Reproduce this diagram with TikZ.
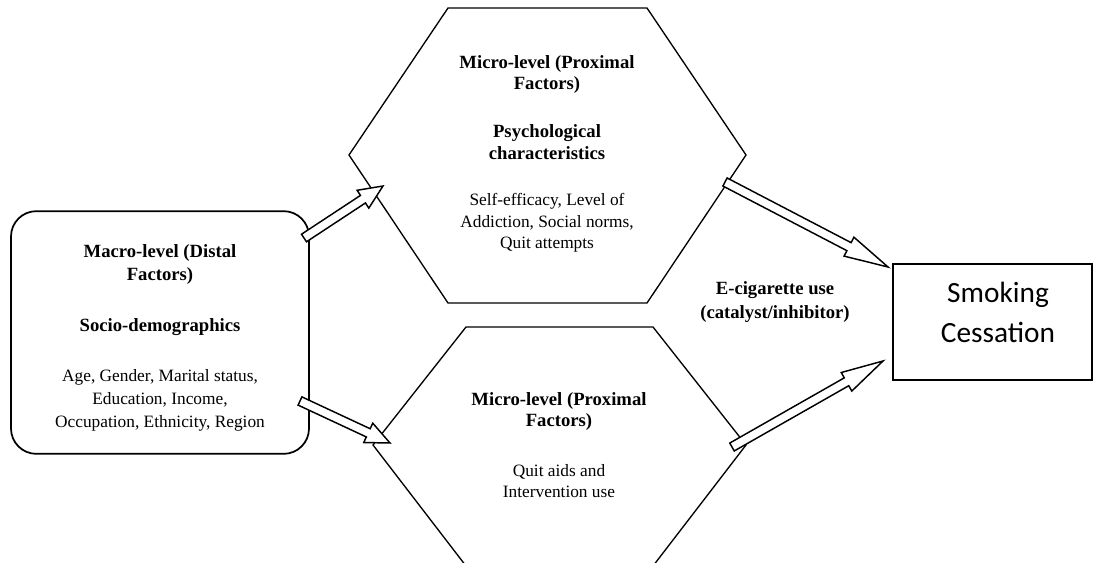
\documentclass[tikz,border=0pt]{standalone}
\usepackage{fontspec}
\setmainfont{Liberation Serif}[BoldFeatures={Scale=1.077}]
\newfontfamily\calibrifont{Carlito}
\usetikzlibrary{calc,positioning}

\tikzset{
  boxtext/.style={align=center,font=\fontsize{13}{17}\selectfont},
  hextext/.style={align=center,font=\fontsize{13}{16}\selectfont},
  hexline/.style={draw=black,line width=1pt,line join=miter},
  macrobox/.style={draw=black,line width=1.3pt,rounded corners=19pt,
    minimum width=223.5pt,minimum height=182pt},
  outcomebox/.style={draw=black,line width=1.2pt,
    minimum width=149pt,minimum height=87pt},
  fatarrow/.style={draw=black,fill=white,line width=1.1pt,line join=miter},
}

% block arrow: #1 head length, #2 tail, #3 tip
\newcommand\blockarrow[3]{%
  \coordinate (ba-base) at ($(#3)!#1!(#2)$);
  \draw[fatarrow] ($(#2)!3.4pt!90:(#3)$) -- ($(ba-base)!3.4pt!90:(#3)$)
    -- ($(ba-base)!8pt!90:(#3)$) -- (#3) -- ($(ba-base)!8pt!-90:(#3)$)
    -- ($(ba-base)!3.4pt!-90:(#3)$) -- ($(#2)!3.4pt!-90:(#3)$) -- cycle;
}

\begin{document}
\begin{tikzpicture}[x=0.75pt,y=-0.75pt]
  \useasboundingbox (0,0) rectangle (1094,563);
  \clip (0,0) rectangle (1094,563);

  % upper hexagon
  \draw[hexline] (448,8) -- (647,8) -- (746,155) -- (647,303)
    -- (448,303) -- (349,155) -- cycle;
  \node[hextext] (psych) at (547,154)
    {\textbf{Micro-level (Proximal}\\\textbf{Factors)}\\[20pt]
     \textbf{Psychological}\\\textbf{characteristics}\\[19pt]
     Self-efficacy, Level of\\Addiction, Social norms,\\Quit attempts};

  % lower hexagon
  \draw[hexline] (466,327) -- (653,327) -- (746,445) -- (653,566)
    -- (466,566) -- (373,445) -- cycle;
  \node[hextext] (aids) at (559,445)
    {\textbf{Micro-level (Proximal}\\\textbf{Factors)}\\[21pt]
     Quit aids and\\Intervention use};

  % macro-level box
  \node[macrobox] (macro) at (160,332.5) {};
  \node[boxtext] (macrotext) at (160,338)
    {\textbf{Macro-level (Distal}\\\textbf{Factors)}\\[21pt]
     \textbf{Socio-demographics}\\[21pt]
     Age, Gender, Marital status,\\Education, Income,\\
     Occupation, Ethnicity, Region};

  % outcome box
  \node[outcomebox] (outcome) at (992.5,322) {};
  \node[align=center,font=\calibrifont\fontsize{22}{30}\selectfont]
    (outcometext) at (998,312) {Smoking\\Cessation};

  \node[align=center,font=\fontsize{13}{18}\selectfont] (ecig) at (775,302)
    {\textbf{E-cigarette use}\\\textbf{(catalyst/inhibitor)}};

  % arrow ends
  \coordinate (a1s) at (304,238);
  \coordinate (a1e) at (383,186);
  \coordinate (a2s) at (300,401);
  \coordinate (a2e) at (390,443);
  \coordinate (a3s) at (725,182);
  \coordinate (a3e) at (888,267);
  \coordinate (a4s) at (732,447);
  \coordinate (a4e) at (883,361);

  \blockarrow{18pt}{a1s}{a1e}
  \blockarrow{18pt}{a2s}{a2e}
  \blockarrow{33pt}{a3s}{a3e}
  \blockarrow{31.5pt}{a4s}{a4e}
\end{tikzpicture}
\end{document}
